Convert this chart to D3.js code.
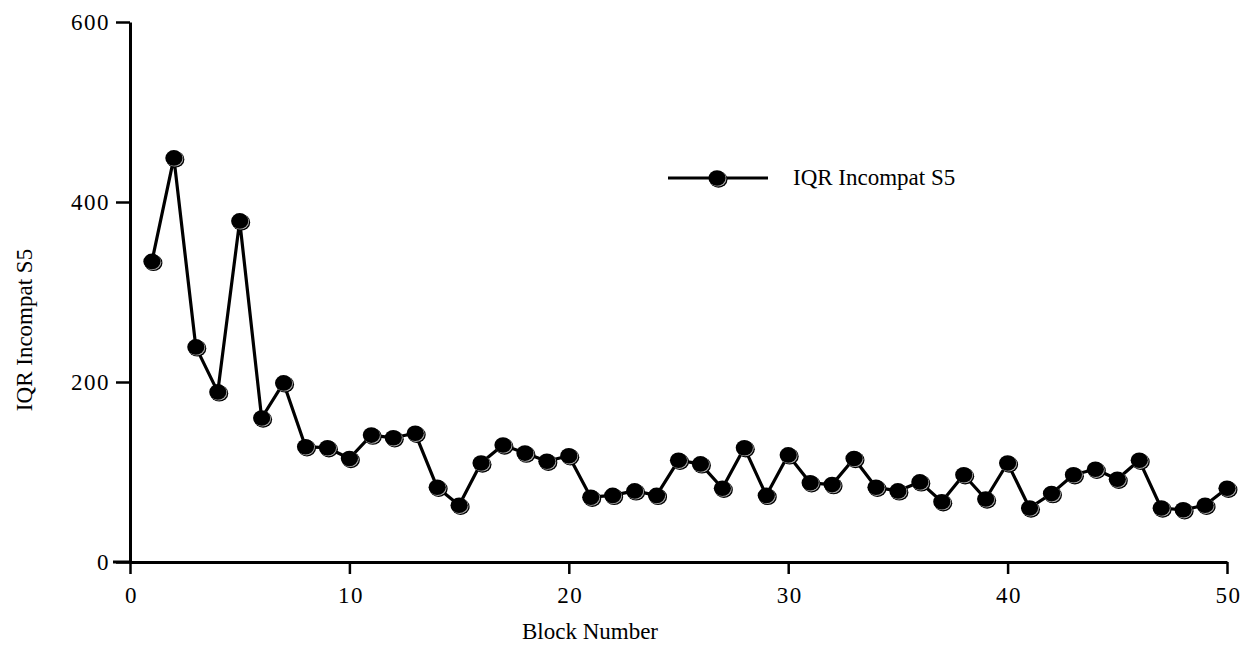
<!DOCTYPE html>
<html>
<head>
<meta charset="utf-8">
<script src="https://cdn.jsdelivr.net/npm/d3@7"></script>
<style>
  html, body { margin: 0; padding: 0; background: #fff; }
  svg { display: block; }
  text { font-family: "Liberation Serif", "Times New Roman", serif; fill: #000; }
</style>
</head>
<body>
<script>
const blocks = d3.range(1, 51);
const iqrValues = [334, 449, 239, 189, 379, 160, 199, 128, 127, 115,
                   141, 138, 143, 83, 63, 110, 130, 121, 112, 118,
                   72, 74, 79, 74, 113, 109, 82, 127, 74, 119,
                   88, 86, 115, 83, 79, 89, 67, 97, 70, 110,
                   60, 76, 97, 103, 92, 113, 60, 58, 63, 82];
const xTicks = [0, 10, 20, 30, 40, 50];
const yTicks = [0, 200, 400, 600];
const seriesName = "IQR Incompat S5";
const xTitle = "Block Number";
const yTitle = "IQR Incompat S5";

const W = 1247, H = 646;
const FS = "23px";
const svg = d3.select("body").append("svg").attr("width", W).attr("height", H);

const x = d3.scaleLinear().domain([0, 50]).range([130, 1227]);
const y = d3.scaleLinear().domain([0, 600]).range([562, 22]);

// axes
const xAxis = svg.append("g").attr("transform", `translate(0,${y(0)})`)
  .call(d3.axisBottom(x).tickValues(xTicks).tickSize(12).tickPadding(6).tickSizeOuter(0));
const yAxis = svg.append("g").attr("transform", `translate(${x(0)},0)`)
  .call(d3.axisLeft(y).tickValues(yTicks).tickSize(14).tickPadding(6).tickSizeOuter(0));
[xAxis, yAxis].forEach(g => {
  g.attr("font-size", null).attr("font-family", null);
  g.select(".domain").attr("stroke", "#000").attr("stroke-width", 3);
  g.selectAll(".tick line").attr("stroke", "#000").attr("stroke-width", 2.5);
  g.selectAll(".tick text")
    .style("font-family", "'Liberation Serif', serif")
    .style("font-size", FS)
    .style("letter-spacing", "1.5px")
    .attr("fill", "#000");
});
// extend x axis line left to meet the 0 tick
svg.append("line").attr("x1", x(0) - 17).attr("x2", x(0)).attr("y1", y(0)).attr("y2", y(0))
  .attr("stroke", "#000").attr("stroke-width", 3);
xAxis.selectAll(".tick text").attr("y", 0).attr("dy", 0).attr("transform", "translate(1,40.5)");

// axis titles
svg.append("text").attr("x", 590).attr("y", 639)
  .attr("text-anchor", "middle").style("font-size", FS).text(xTitle);
svg.append("text").attr("transform", `translate(32,330) rotate(-90)`)
  .attr("text-anchor", "middle").style("font-size", FS).text(yTitle);

// line
const data = blocks.map((b, i) => ({ b, v: iqrValues[i] }));
svg.append("path").datum(data)
  .attr("fill", "none").attr("stroke", "#000").attr("stroke-width", 3.2)
  .attr("stroke-linejoin", "round")
  .attr("d", d3.line().x(d => x(d.b)).y(d => y(d.v)));

function marker(g, cx, cy) {
  g.append("ellipse").attr("cx", cx + 1.5).attr("cy", cy + 1.5).attr("rx", 9).attr("ry", 8.2).attr("fill", "#000");
  g.append("ellipse").attr("cx", cx + 0.8).attr("cy", cy + 0.8).attr("rx", 8.6).attr("ry", 7.8).attr("fill", "#aaa");
  g.append("ellipse").attr("cx", cx).attr("cy", cy).attr("rx", 8.6).attr("ry", 7.8).attr("fill", "#000");
}
const mg = svg.append("g");
data.forEach(d => marker(mg, x(d.b), y(d.v)));

// legend
const lg = svg.append("g");
lg.append("line").attr("x1", 668).attr("x2", 768).attr("y1", 178).attr("y2", 178)
  .attr("stroke", "#000").attr("stroke-width", 3);
marker(lg, 717, 178);
lg.append("text").attr("x", 793).attr("y", 185).style("font-size", FS).text(seriesName);
</script>
</body>
</html>
